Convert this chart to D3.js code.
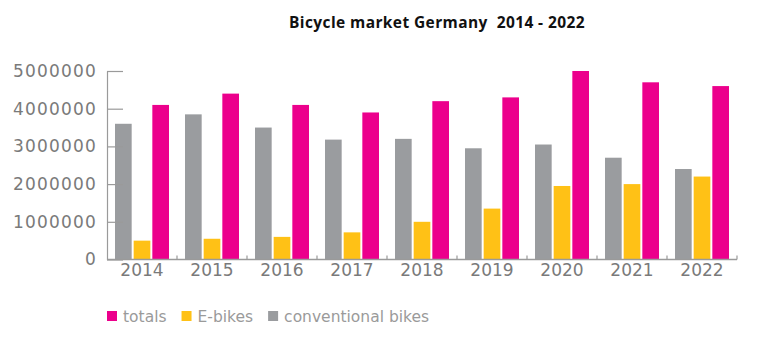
<!DOCTYPE html>
<html>
<head>
<meta charset="utf-8">
<script src="https://cdn.jsdelivr.net/npm/d3@7"></script>
<style>
  body { margin: 0; background: #fff; }
  svg { display: block; }
</style>
</head>
<body>
<svg width="768" height="343"></svg>
<script>
// bicycle sales per year
var years = ["2014", "2015", "2016", "2017", "2018", "2019", "2020", "2021", "2022"];
var conventional = [3600000, 3850000, 3500000, 3180000, 3200000, 2950000, 3050000, 2700000, 2400000];
var ebikes = [500000, 550000, 600000, 720000, 1000000, 1350000, 1950000, 2000000, 2200000];
var totals = [4100000, 4400000, 4100000, 3900000, 4200000, 4300000, 5000000, 4700000, 4600000];
var yTicks = [0, 1000000, 2000000, 3000000, 4000000, 5000000];

var seriesKeys = ["conventional", "ebikes", "totals"];
var seriesValues = { conventional: conventional, ebikes: ebikes, totals: totals };
var colors = { conventional: "#9a9c9f", ebikes: "#ffc116", totals: "#ec008c" };
var legendItems = [
    { key: "totals", label: "totals" },
    { key: "ebikes", label: "E-bikes" },
    { key: "conventional", label: "conventional bikes" }
];

var svg = d3.select("svg");
var plotLeft = 107, plotRight = 737, plotTop = 71, plotBottom = 259.5;

var x0 = d3.scaleBand().domain(years).range([plotLeft, plotRight]);
var x1 = d3.scaleBand().domain(seriesKeys).range([8, 62]).paddingInner(0.107);
var y = d3.scaleLinear().domain([0, 5000000]).range([plotBottom, plotTop]);

// title
svg.append("text")
    .attr("x", 437)
    .attr("y", 27.5)
    .attr("text-anchor", "middle")
    .style("white-space", "pre")
    .style("font-family", "'Open Sans', sans-serif")
    .style("font-weight", "bold")
    .style("font-size", "15.5px")
    .style("letter-spacing", "0.4px")
    .attr("fill", "#111")
    .text("Bicycle market Germany  2014 - 2022");

// bars, one group per year
var groups = svg.selectAll("g.year")
    .data(years)
    .enter()
    .append("g")
    .attr("class", "year")
    .attr("transform", d => `translate(${x0(d)},0)`);

groups.selectAll("rect")
    .data((d, i) => seriesKeys.map(k => ({ key: k, value: seriesValues[k][i] })))
    .enter()
    .append("rect")
    .attr("x", d => x1(d.key))
    .attr("y", d => y(d.value))
    .attr("width", x1.bandwidth())
    .attr("height", d => plotBottom - y(d.value))
    .attr("fill", d => colors[d.key]);

// y axis: ticks point into the plot, labels on the left
var yAxis = d3.axisLeft(y)
    .tickValues(yTicks)
    .tickFormat(d3.format("d"))
    .tickSizeInner(-16)
    .tickSizeOuter(0)
    .tickPadding(10);

var gy = svg.append("g")
    .attr("transform", `translate(${plotLeft},0)`)
    .call(yAxis);
gy.select(".domain").attr("stroke", "#9a9a9a").attr("stroke-width", 1.2);
gy.selectAll(".tick line").attr("stroke", "#9a9a9a").attr("stroke-width", 1.2);
gy.selectAll(".tick text")
    .attr("fill", "#7a7a7a")
    .style("font-family", "'DejaVu Sans', sans-serif")
    .style("font-size", "17px")
    .style("letter-spacing", "1.2px");

// x axis: small upward ticks at category boundaries
var gx = svg.append("g").attr("transform", `translate(0,${plotBottom})`);
gx.append("line")
    .attr("x1", plotLeft).attr("x2", plotRight)
    .attr("stroke", "#9a9a9a").attr("stroke-width", 1.5);
gx.selectAll("line.sep")
    .data(years.slice(1).concat(["end"]))
    .enter()
    .append("line")
    .attr("class", "sep")
    .attr("x1", d => d === "end" ? plotRight : x0(d))
    .attr("x2", d => d === "end" ? plotRight : x0(d))
    .attr("y1", 0).attr("y2", -4)
    .attr("stroke", "#9a9a9a").attr("stroke-width", 1.2);
gx.selectAll("text")
    .data(years)
    .enter()
    .append("text")
    .attr("x", d => x0(d) + x0.bandwidth() / 2)
    .attr("y", 16)
    .attr("text-anchor", "middle")
    .attr("fill", "#7a7a7a")
    .style("font-family", "'DejaVu Sans', sans-serif")
    .style("font-size", "17px")
    .text(d => d);

// legend
var legend = svg.append("g").attr("transform", "translate(107,316)");
var lx = 0;
legendItems.forEach(function(item) {
    legend.append("rect")
        .attr("x", lx).attr("y", -5)
        .attr("width", 10).attr("height", 10)
        .attr("fill", colors[item.key]);
    var t = legend.append("text")
        .attr("x", lx + 16)
        .attr("y", 5.5)
        .attr("fill", "#9a9a9a")
        .style("font-family", "'DejaVu Sans', sans-serif")
        .style("font-size", "15.5px")
        .text(item.label);
    lx += 16 + t.node().getComputedTextLength() + 15;
});
</script>
</body>
</html>
